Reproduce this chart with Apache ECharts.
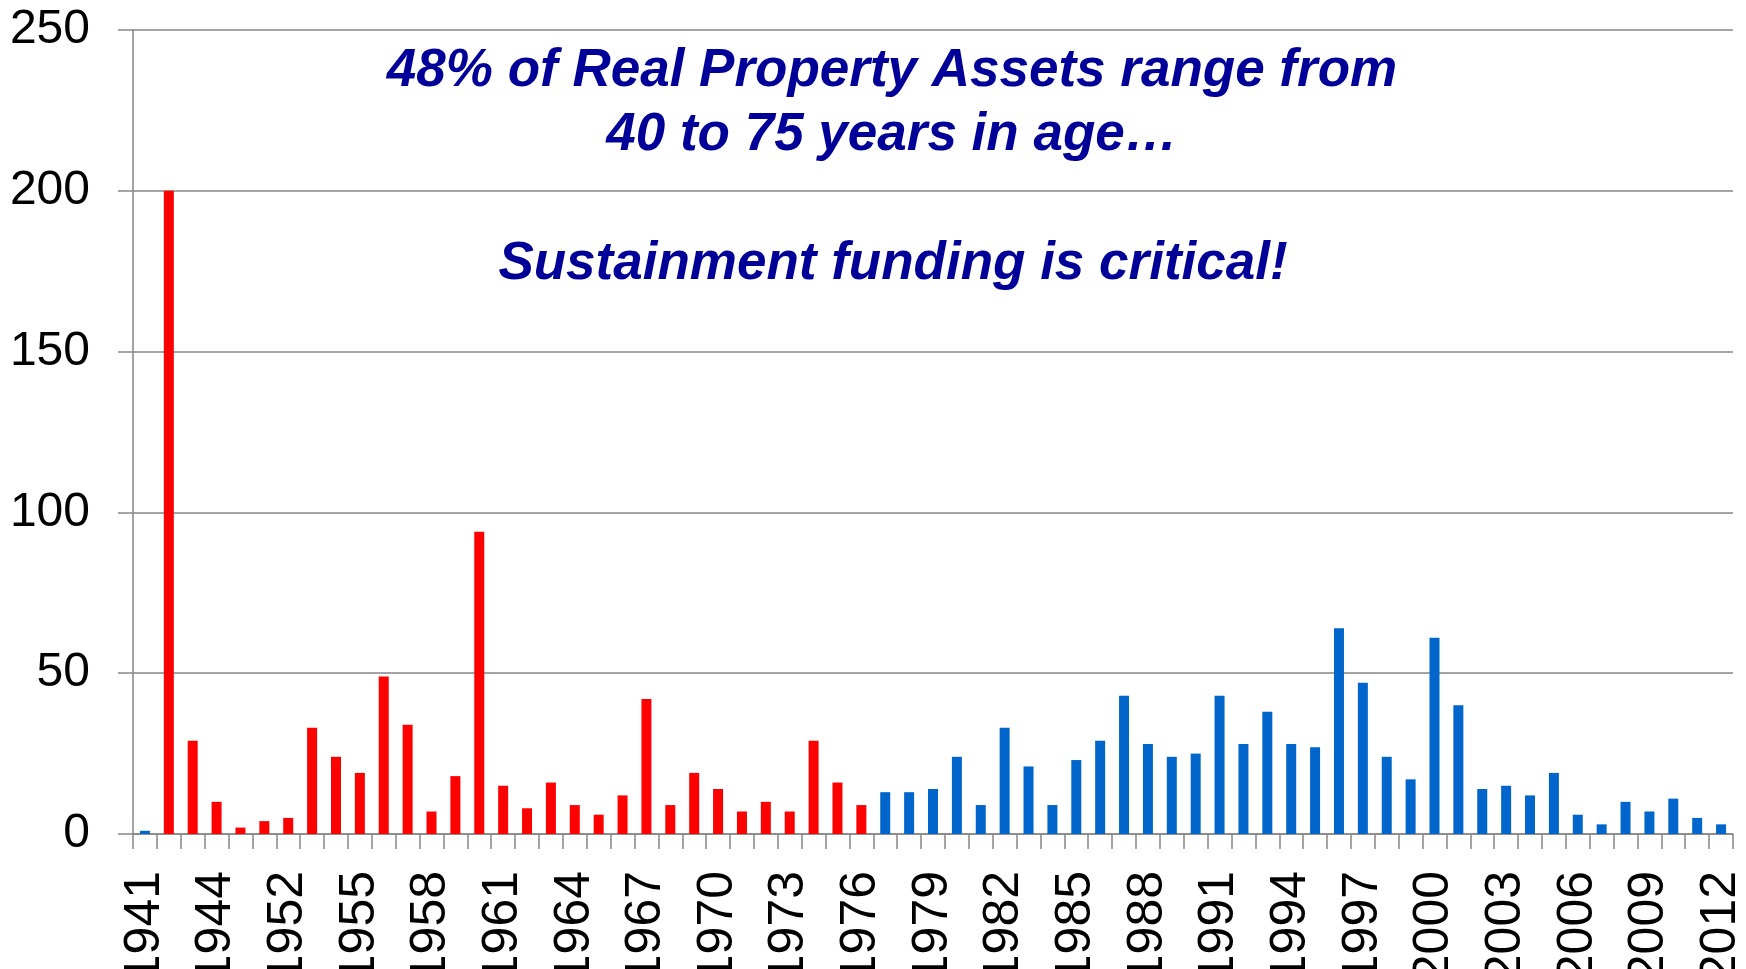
<!DOCTYPE html>
<html>
<head>
<meta charset="utf-8">
<script src="https://cdn.jsdelivr.net/npm/echarts@6/dist/echarts.min.js"></script>
<style>
  html, body { margin: 0; padding: 0; background: #fff; }
  #chart { width: 1746px; height: 969px; }
</style>
</head>
<body>
<div id="chart"></div>
<script>
// build years (two early years in the gap are not labelled in the original)
const years = [
  '1941', '1942', '1943', '1944', '1945', '1950',
  '1952', '1953', '1954', '1955', '1956', '1957', '1958', '1959', '1960',
  '1961', '1962', '1963', '1964', '1965', '1966', '1967', '1968', '1969', '1970',
  '1971', '1972', '1973', '1974', '1975', '1976', '1977', '1978', '1979', '1980',
  '1981', '1982', '1983', '1984', '1985', '1986', '1987', '1988', '1989', '1990',
  '1991', '1992', '1993', '1994', '1995', '1996', '1997', '1998', '1999', '2000',
  '2001', '2002', '2003', '2004', '2005', '2006', '2007', '2008', '2009', '2010',
  '2011', '2012'
];

// number of assets per build year
const assetCounts = [
  1, 200, 29, 10, 2, 4,
  5, 33, 24, 19, 49, 34, 7, 18, 94,
  15, 8, 16, 9, 6, 12, 42, 9, 19, 14,
  7, 10, 7, 29, 16, 9, 13, 13, 14, 24,
  9, 33, 21, 9, 23, 29, 43, 28, 24, 25,
  43, 28, 38, 28, 27, 64, 47, 24, 17, 61,
  40, 14, 15, 12, 19, 6, 3, 10, 7, 11,
  5, 3
];

// years drawn in red (40 to 75 years old)
const agedFrom = '1942';
const agedTo = '1976';

const yTicks = [0, 50, 100, 150, 200, 250];

const headline = ['48% of Real Property Assets range from', '40 to 75 years in age\u2026'];
const callout = 'Sustainment funding is critical!';

const RED = '#FF0000';
const BLUE = '#0066CC';
const GRID_GRAY = '#868686';
const FONT = '"Liberation Sans", Arial, sans-serif';

const chart = echarts.init(document.getElementById('chart'), null, { renderer: 'canvas' });

const option = {
  animation: false,
  backgroundColor: '#fff',
  grid: {
    left: 133,
    right: 13,
    top: 30,
    bottom: 135,
    containLabel: false,
    outerBoundsMode: 'none'
  },
  xAxis: {
    type: 'category',
    data: years,
    boundaryGap: true,
    axisLine: { show: true, lineStyle: { color: GRID_GRAY, width: 1.5 } },
    axisTick: { show: true, interval: 0, alignWithLabel: false, length: 15, lineStyle: { color: GRID_GRAY, width: 1.5 } },
    axisLabel: {
      interval: 2,
      rotate: 90,
      margin: 37,
      color: '#000',
      fontSize: 50,
      fontFamily: FONT
    },
    splitLine: { show: false }
  },
  yAxis: {
    type: 'value',
    min: yTicks[0],
    max: yTicks[yTicks.length - 1],
    interval: yTicks[1] - yTicks[0],
    axisLine: { show: true, lineStyle: { color: GRID_GRAY, width: 1.5 } },
    axisTick: { show: true, length: 15, lineStyle: { color: GRID_GRAY, width: 1.5 } },
    axisLabel: {
      margin: 43,
      color: '#000',
      fontSize: 48,
      fontFamily: FONT
    },
    splitLine: { show: true, lineStyle: { color: GRID_GRAY, width: 1.5 } }
  },
  series: [
    {
      type: 'bar',
      data: assetCounts,
      barWidth: 10,
      itemStyle: {
        color: (p) => (years[p.dataIndex] >= agedFrom && years[p.dataIndex] <= agedTo ? RED : BLUE)
      }
    }
  ],
  graphic: [
    {
      type: 'text',
      x: 892,
      y: 39,
      style: {
        text: headline.join('\n'),
        textAlign: 'center',
        textVerticalAlign: 'top',
        font: 'italic bold 53px ' + FONT,
        lineHeight: 64,
        fill: '#000099'
      }
    },
    {
      type: 'text',
      x: 893,
      y: 264,
      style: {
        text: callout,
        textAlign: 'center',
        textVerticalAlign: 'middle',
        font: 'italic bold 53px ' + FONT,
        fill: '#000099'
      }
    }
  ]
};

chart.setOption(option);
</script>
</body>
</html>
